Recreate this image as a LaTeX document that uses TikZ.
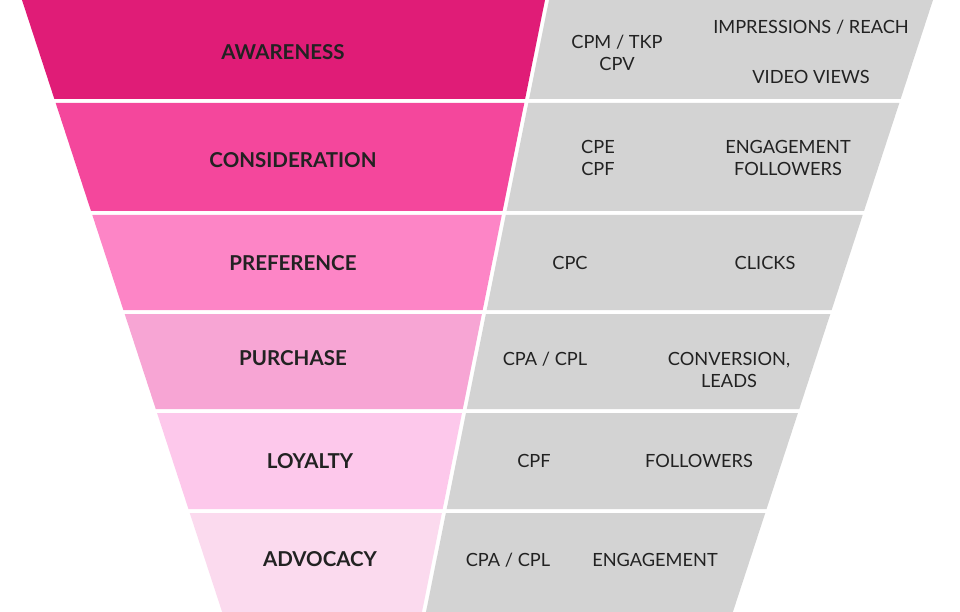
\documentclass[tikz,border=0pt]{standalone}
\usepackage{fontspec}
\setmainfont{Lato}
\usepackage{tikz}
\usetikzlibrary{calc}

\definecolor{awareC}{RGB}{224,28,119}
\definecolor{considerC}{RGB}{244,71,156}
\definecolor{preferC}{RGB}{253,133,198}
\definecolor{purchaseC}{RGB}{247,165,212}
\definecolor{loyalC}{RGB}{253,200,235}
\definecolor{advocC}{RGB}{251,218,238}
\definecolor{metricC}{RGB}{211,211,211}
\definecolor{inkC}{RGB}{34,34,34}

\tikzstyle{stage} = [text=inkC, font=\fontsize{20.5}{24}\selectfont\bfseries, inner sep=0pt]
\tikzstyle{metric} = [text=inkC, font=\fontsize{18.2}{22}\selectfont, inner sep=0pt, align=center]

\begin{document}
\begin{tikzpicture}[x=1pt, y=-1pt]

    \useasboundingbox (0,0) rectangle (960,612);

    % the funnel rows (left edge, divider and right edge are straight lines)
    \foreach \ya/\yb/\shade in {0/99/awareC, 103/211/considerC, 215/310/preferC, 314/409/purchaseC, 413/509/loyalC, 513/612/advocC} {
        \fill [\shade] ({22+0.327*\ya},\ya) -- ({545-0.201*\ya},\ya) -- ({545-0.201*\yb},\yb) -- ({22+0.327*\yb},\yb) -- cycle;
        \fill [metricC] ({549-0.201*\ya},\ya) -- ({933-0.327*\ya},\ya) -- ({933-0.327*\yb},\yb) -- ({549-0.201*\yb},\yb) -- cycle;
    }

    % the stages
    \node (Aware) [stage] at (283,52) {AWARENESS};
    \node (Consider) [stage] at (293,160) {CONSIDERATION};
    \node (Prefer) [stage] at (293,263) {PREFERENCE};
    \node (Purchase) [stage] at (293,358) {PURCHASE};
    \node (Loyal) [stage] at (310,461) {LOYALTY};
    \node (Advoc) [stage] at (320,559) {ADVOCACY};

    % the cost metrics
    \node (AwareCost) [metric] at (617,53) {CPM / TKP\\CPV};
    \node (ConsiderCost) [metric] at (598,158) {CPE\\CPF};
    \node (PreferCost) [metric] at (570,263) {CPC};
    \node (PurchaseCost) [metric] at (545,359) {CPA / CPL};
    \node (LoyalCost) [metric] at (534,461) {CPF};
    \node (AdvocCost) [metric] at (508,560) {CPA / CPL};

    % the results
    \node (AwareReach) [metric] at (811,27) {IMPRESSIONS / REACH};
    \node (AwareViews) [metric] at (811,77) {VIDEO VIEWS};
    \node (ConsiderRes) [metric] at (788,158) {ENGAGEMENT\\FOLLOWERS};
    \node (PreferRes) [metric] at (765,263) {CLICKS};
    \node (PurchaseRes) [metric] at (729,370) {CONVERSION,\\LEADS};
    \node (LoyalRes) [metric] at (699,461) {FOLLOWERS};
    \node (AdvocRes) [metric] at (655,560) {ENGAGEMENT};

\end{tikzpicture}
\end{document}
